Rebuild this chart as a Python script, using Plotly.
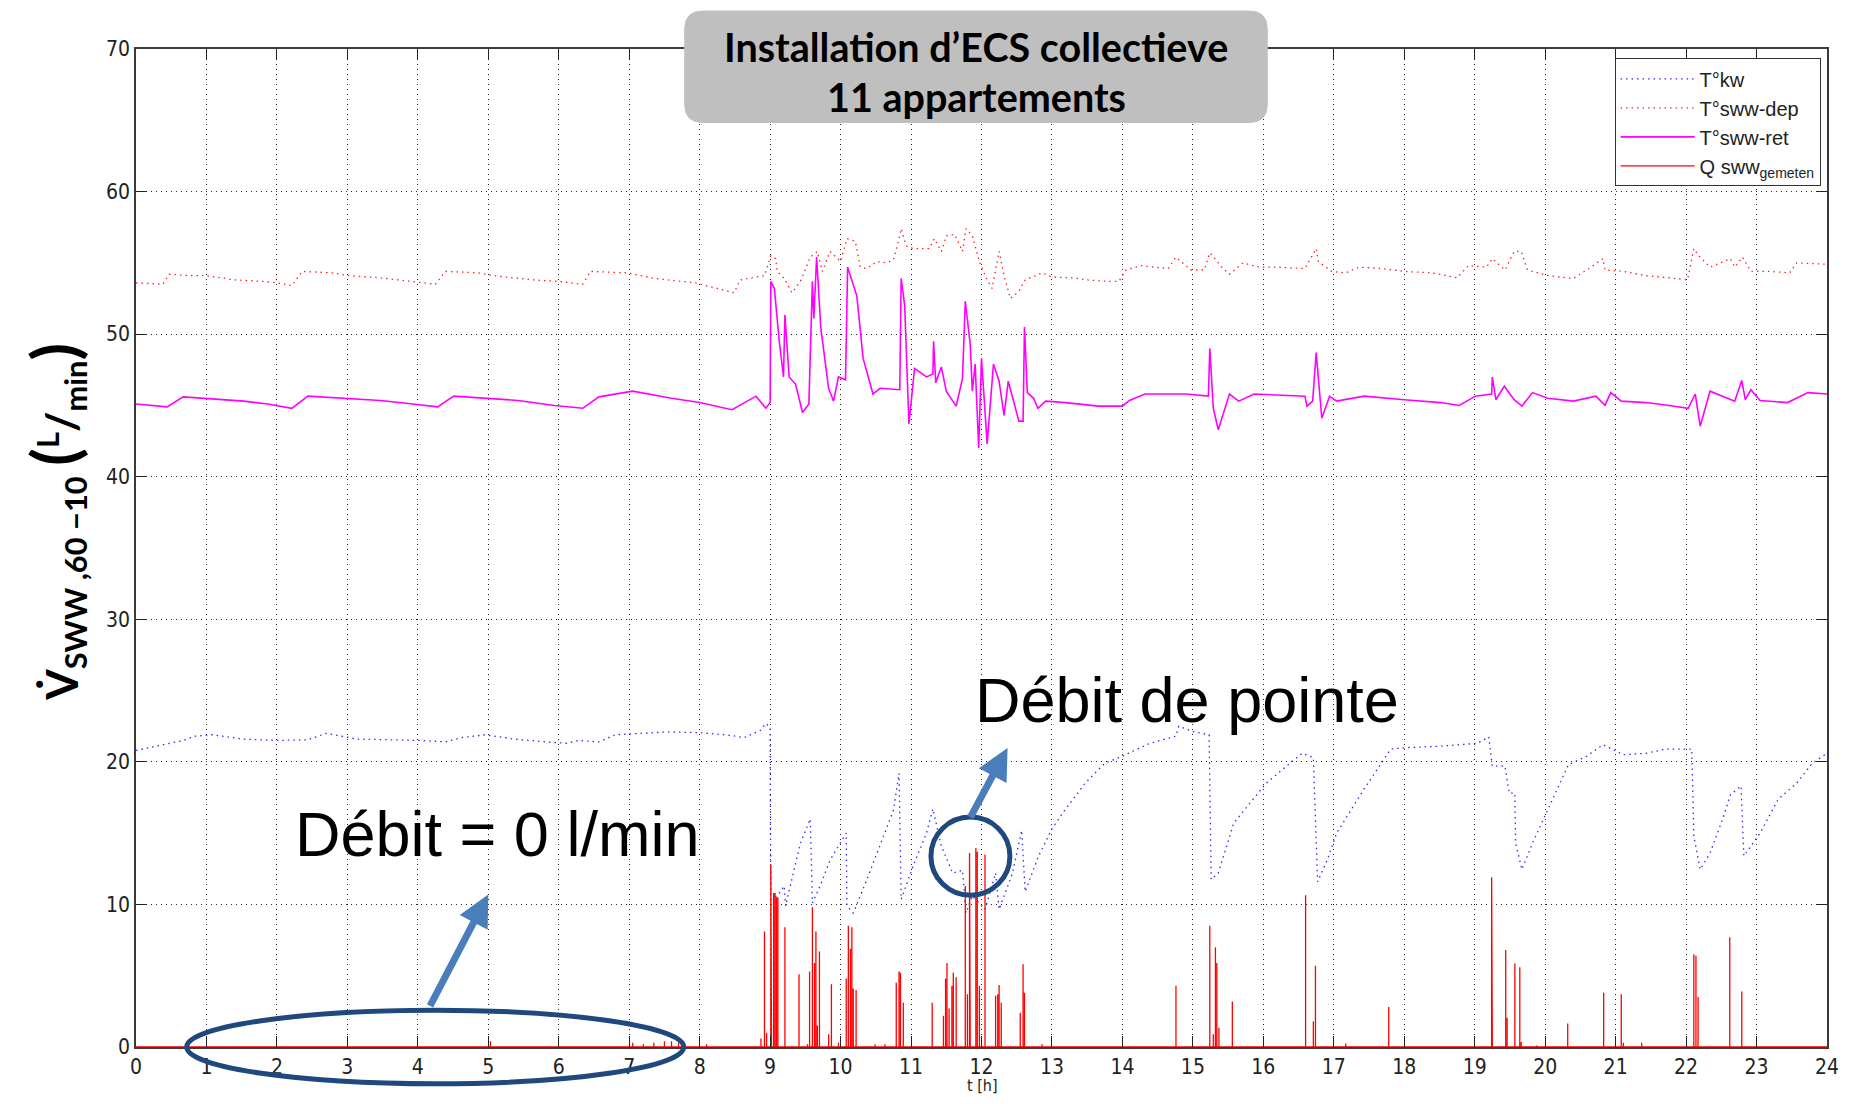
import plotly.graph_objects as go

# ---------------- data ----------------
KW_T = [0.0, 0.38, 0.67, 0.84, 1.07, 1.53, 1.99, 2.44, 2.7, 3.13, 3.65, 4.05, 4.39, 4.62, 4.96,
        5.36, 5.82, 6.11, 6.28, 6.57, 6.8, 7.14, 7.54, 7.98, 8.38, 8.63, 8.86, 8.94, 9.0, 9.01,
        9.1, 9.2, 9.22, 9.43, 9.57, 9.6, 9.71, 9.85, 10.0, 10.08, 10.09, 10.18, 10.37, 10.56,
        10.75, 10.83, 10.86, 11.03, 11.22, 11.31, 11.43, 11.59, 11.73, 11.78, 11.87, 12.05,
        12.2, 12.25, 12.44, 12.57, 12.62, 12.81, 13.0, 13.18, 13.47, 13.75, 14.0, 14.39, 14.76,
        14.8, 15.02, 15.23, 15.26, 15.36, 15.58, 15.81, 16.04, 16.33, 16.55, 16.71, 16.77,
        16.91, 17.04, 17.43, 17.81, 18.04, 18.52, 19.04, 19.2, 19.25, 19.43, 19.49, 19.57,
        19.58, 19.67, 19.82, 20.04, 20.33, 20.59, 20.82, 21.11, 21.43, 21.72, 22.08, 22.11,
        22.2, 22.34, 22.52, 22.63, 22.78, 22.82, 23.05, 23.31, 23.57, 23.79, 24.0]
KW_V = [20.8, 21.2, 21.5, 21.8, 21.9, 21.6, 21.5, 21.55, 22.0, 21.6, 21.55, 21.5, 21.4, 21.7, 21.9,
        21.6, 21.4, 21.3, 21.5, 21.4, 21.9, 22.0, 22.1, 22.05, 21.9, 21.7, 22.2, 22.7, 22.4, 10.35,
        10.6, 11.3, 9.9, 14.3, 16.0, 10.1, 11.3, 13.1, 14.3, 15.0, 9.9, 9.4, 11.7, 14.1,
        16.6, 19.2, 10.35, 12.7, 15.0, 16.7, 14.1, 12.2, 12.4, 9.4, 10.6, 9.65,
        12.2, 9.65, 12.2, 15.2, 10.9, 13.4, 15.3, 16.6, 18.5, 19.9, 20.4, 21.3, 21.8,
        22.5, 22.1, 21.9, 11.75, 12.2, 15.7, 17.1, 18.5, 19.7, 20.6, 20.3, 11.6,
        13.15, 15.0, 18.1, 20.9, 21.0, 21.1, 21.3, 21.75, 19.7, 19.7, 17.8, 17.8,
        14.3, 12.45, 14.3, 16.7, 19.8, 20.4, 21.2, 20.5, 20.6, 20.9, 20.9, 14.8,
        12.45, 13.6, 16.0, 17.7, 18.3, 13.4, 15.0, 17.4, 18.5, 19.9, 20.6]

DEP_T = [0.0, 0.38, 0.47, 0.78, 1.0, 1.41, 1.81, 2.0, 2.21, 2.36, 2.79, 3.02, 3.47, 3.93, 4.25,
         4.39, 4.85, 5.08, 5.65, 6.0, 6.34, 6.45, 6.97, 7.37, 7.94, 8.49, 8.57, 8.68, 8.92, 9.01,
         9.08, 9.1, 9.2, 9.31, 9.43, 9.57, 9.67, 9.74, 9.85, 10.0, 10.09, 10.21, 10.28, 10.37,
         10.52, 10.65, 10.75, 10.82, 10.86, 10.93, 11.03, 11.26, 11.33, 11.43, 11.5, 11.62,
         11.73, 11.78, 11.87, 11.97, 12.06, 12.15, 12.25, 12.32, 12.41, 12.53, 12.62, 12.77,
         12.86, 13.0, 13.28, 13.51, 13.79, 13.95, 14.05, 14.26, 14.65, 14.76, 14.97, 15.16,
         15.24, 15.33, 15.39, 15.52, 15.71, 15.94, 16.2, 16.59, 16.75, 16.78, 16.97, 17.17,
         17.36, 17.68, 18.0, 18.4, 18.75, 18.91, 19.17, 19.25, 19.43, 19.56, 19.66, 19.75,
         20.04, 20.4, 20.59, 20.82, 20.85, 21.11, 21.43, 21.76, 22.02, 22.11, 22.18, 22.34,
         22.63, 22.69, 22.8, 22.92, 23.18, 23.47, 23.57, 24.0]
DEP_V = [53.6, 53.5, 54.2, 54.1, 54.1, 53.8, 53.7, 53.6, 53.4, 54.4, 54.3, 54.1, 53.95, 53.7, 53.5,
         54.4, 54.3, 54.1, 53.8, 53.7, 53.5, 54.4, 54.3, 53.9, 53.6, 52.9, 53.8, 53.9, 54.1, 55.5,
         55.3, 54.4, 53.9, 52.9, 53.7, 55.4, 55.8, 54.4, 55.8, 55.1, 56.7, 56.5, 54.7, 54.6,
         55.1, 55.0, 55.2, 56.5, 57.4, 56.2, 56.0, 56.0, 56.7, 55.8, 56.9, 57.0,
         55.8, 57.4, 56.9, 55.1, 54.0, 53.2, 55.8, 54.1, 52.5, 53.0, 53.8, 54.1,
         54.3, 54.0, 53.95, 53.8, 53.7, 53.7, 54.5, 54.8, 54.6, 55.4, 54.5, 54.5,
         55.7, 55.2, 54.8, 54.2, 55.0, 54.7, 54.7, 54.6, 56.0, 55.1, 54.4, 54.3,
         54.7, 54.6, 54.4, 54.3, 53.95, 54.8, 54.7, 55.3, 54.5, 55.8, 55.8, 54.5,
         54.1, 53.9, 54.5, 55.3, 54.5, 54.4, 54.1, 53.95, 53.8, 56.0, 55.5, 54.7,
         55.3, 54.7, 55.4, 54.4, 54.4, 54.3, 55.0, 54.9]

RET_T = [0.0, 0.44, 0.67, 1.0, 1.53, 1.87, 2.21, 2.44, 3.02, 3.47, 3.93, 4.28, 4.51, 4.96, 5.42,
         5.94, 6.34, 6.57, 7.05, 7.6, 8.0, 8.46, 8.68, 8.8, 8.94, 9.0, 9.01, 9.06, 9.13, 9.19,
         9.21, 9.27, 9.36, 9.46, 9.55, 9.6, 9.62, 9.66, 9.72, 9.83, 9.9, 9.97, 10.07, 10.1,
         10.23, 10.32, 10.46, 10.56, 10.84, 10.86, 10.91, 10.97, 11.05, 11.22, 11.31, 11.32,
         11.35, 11.43, 11.5, 11.64, 11.73, 11.77, 11.84, 11.87, 11.91, 11.96, 12.0, 12.08,
         12.17, 12.25, 12.32, 12.38, 12.53, 12.59, 12.61, 12.65, 12.74, 12.8, 12.91, 13.19,
         13.66, 14.0, 14.1, 14.32, 14.9, 15.22, 15.24, 15.29, 15.36, 15.52, 15.65, 15.87,
         16.59, 16.62, 16.7, 16.75, 16.83, 16.94, 17.04, 17.43, 18.0, 18.52, 18.78, 19.01,
         19.24, 19.25, 19.3, 19.42, 19.56, 19.67, 19.82, 20.04, 20.4, 20.72, 20.85, 20.93,
         21.08, 21.43, 21.76, 22.03, 22.13, 22.2, 22.34, 22.6, 22.69, 22.79, 22.84, 22.92,
         23.05, 23.44, 23.73, 24.0]
RET_V = [45.1, 44.9, 45.6, 45.5, 45.3, 45.1, 44.8, 45.65, 45.5, 45.35, 45.1, 44.9, 45.65, 45.5, 45.35,
         45.0, 44.8, 45.6, 46.0, 45.5, 45.2, 44.7, 45.3, 45.65, 44.8, 45.2, 53.7, 53.2, 49.5, 47.0,
         51.35, 47.0, 46.5, 44.5, 45.1, 53.7, 51.1, 55.4, 50.4, 46.2, 45.3, 47.0, 46.8, 54.7,
         52.7, 48.3, 45.8, 46.2, 46.1, 53.9, 52.0, 43.7, 47.6, 47.0, 47.2, 49.5,
         46.6, 47.7, 46.0, 44.95, 46.9, 52.3, 49.3, 46.0, 47.9, 42.0, 48.3, 42.3,
         47.9, 46.7, 44.3, 46.7, 43.9, 43.9, 50.5, 45.9, 45.5, 44.8, 45.3, 45.2,
         44.95, 44.95, 45.35, 45.8, 45.8, 45.65, 49.0, 44.8, 43.3, 45.8, 45.3, 45.8,
         45.65, 44.95, 45.3, 48.7, 44.1, 45.65, 45.3, 45.65, 45.4, 45.2, 45.0, 45.65,
         45.8, 47.0, 45.4, 46.35, 45.4, 44.95, 45.9, 45.5, 45.3, 45.65, 45.0, 45.9,
         45.3, 45.2, 45.0, 44.8, 45.8, 43.55, 46.0, 45.5, 45.3, 46.75, 45.4, 46.1,
         45.35, 45.2, 45.9, 45.8]

Q_T = [5.03, 7.05, 7.2, 7.35, 7.5, 7.6, 7.7, 8.1, 8.87, 8.92, 8.95, 9.01, 9.02, 9.05, 9.07, 9.09,
       9.11, 9.21, 9.41, 9.53, 9.56, 9.6, 9.63, 9.65, 9.67, 9.7, 9.83, 9.87, 9.97, 10.08, 10.11,
       10.14, 10.16, 10.18, 10.22, 10.49, 10.63, 10.79, 10.83, 10.85, 10.89, 11.3, 11.46, 11.49,
       11.51, 11.54, 11.58, 11.6, 11.64, 11.77, 11.8, 11.83, 11.84, 11.92, 11.94, 11.97, 12.05,
       12.2, 12.23, 12.25, 12.28, 12.55, 12.59, 12.61, 12.86, 14.76, 15.24, 15.29, 15.32, 15.34,
       15.37, 15.56, 16.6, 16.71, 16.74, 17.17, 17.78, 19.24, 19.25, 19.44, 19.46, 19.57, 19.64,
       19.66, 19.88, 20.32, 20.83, 21.08, 21.11, 21.37, 22.11, 22.14, 22.17, 22.62, 22.79]
Q_V = [0.4, 0.3, 0.2, 0.3, 0.4, 0.4, 0.3, 0.2, 0.6, 8.1, 1.0, 12.8, 11.5, 10.8, 10.8, 10.5,
       10.5, 8.4, 5.1, 0.2, 5.3, 9.8, 5.9, 8.1, 1.5, 6.7, 0.9, 4.4, 0.3, 4.8, 8.5,
       6.9, 8.4, 4.1, 4.0, 0.2, 0.2, 4.5, 5.3, 5.2, 3.1, 3.1, 2.2, 4.8,
       5.9, 2.7, 4.3, 5.2, 4.9, 11.3, 3.7, 13.6, 6.4, 13.95, 13.7, 4.3, 13.5,
       3.6, 3.7, 4.35, 3.1, 2.4, 5.8, 3.8, 0.2, 4.3, 8.5, 0.9, 7.0, 5.9,
       1.35, 3.2, 10.65, 1.8, 5.7, 0.25, 2.8, 11.9, 0.5, 6.8, 2.05, 5.85, 5.6,
       0.35, 0.1, 1.65, 3.8, 3.7, 0.3, 0.3, 6.5, 6.4, 3.5, 7.7, 3.9]

X_TICKS = list(range(0, 25))
Y_TICKS = [0, 10, 20, 30, 40, 50, 60, 70]
X_RANGE = [0, 24]
Y_RANGE = [0, 70]


def spike_series(ts, hs):
    x, y = [X_RANGE[0]], [0.0]
    for t, h in zip(ts, hs):
        x += [t, t, t]
        y += [0.0, h, 0.0]
    x.append(X_RANGE[1])
    y.append(0.0)
    return x, y


q_x, q_y = spike_series(Q_T, Q_V)

fig = go.Figure()
fig.add_trace(go.Scatter(x=KW_T, y=KW_V, mode="lines", name="T°kw",
                         line=dict(color="#2a2aff", width=1.3, dash="1.5px,4px")))
fig.add_trace(go.Scatter(x=DEP_T, y=DEP_V, mode="lines", name="T°sww-dep",
                         line=dict(color="#ff2020", width=1.3, dash="1.5px,4px")))
fig.add_trace(go.Scatter(x=RET_T, y=RET_V, mode="lines", name="T°sww-ret",
                         line=dict(color="#ff00ff", width=1.6)))
fig.add_trace(go.Scatter(x=q_x, y=q_y, mode="lines", name="Q sww<sub>gemeten</sub>",
                         line=dict(color="#ff0000", width=1.3)))

tick_font = dict(family="Liberation Sans Narrow, DejaVu Sans Condensed, Arial Narrow, sans-serif",
                 size=21, color="#222222")
axis_common = dict(showline=True, linecolor="#3a3a3a", linewidth=1.5, mirror="ticks",
                   ticks="inside", ticklen=11, tickcolor="#222222", tickwidth=1,
                   showgrid=True, gridcolor="#222222", gridwidth=1, griddash="1px,4px",
                   zeroline=False, tickfont=tick_font)

# the page body adds an 8px offset: the figure is sized so that the plot area
# lands where it is in the reference and the page does not overflow the window.
fig.update_layout(
    width=1843, height=1088,
    margin=dict(l=128, r=14, t=41, b=49),
    paper_bgcolor="white", plot_bgcolor="white",
    xaxis=dict(range=X_RANGE, tickvals=X_TICKS, **axis_common),
    yaxis=dict(range=Y_RANGE, tickvals=Y_TICKS, **axis_common),
    legend=dict(x=0.9962, y=0.9906, xanchor="right", yanchor="top",
                bgcolor="white", bordercolor="#333333", borderwidth=1,
                font=dict(family="Liberation Sans, Arial, sans-serif", size=20, color="#222222"),
                itemwidth=74, tracegroupgap=0),
    showlegend=True,
)

# title box (rounded grey rectangle)
bx0, bx1, by0, by1 = 0.3245, 0.6690, 0.9264, 1.038
rx, ry = 0.0106, 0.018
path = (f"M {bx0+rx},{by1} L {bx1-rx},{by1} Q {bx1},{by1} {bx1},{by1-ry} "
        f"L {bx1},{by0+ry} Q {bx1},{by0} {bx1-rx},{by0} L {bx0+rx},{by0} "
        f"Q {bx0},{by0} {bx0},{by0+ry} L {bx0},{by1-ry} Q {bx0},{by1} {bx0+rx},{by1} Z")
fig.add_shape(type="path", path=path, xref="paper", yref="paper",
              fillcolor="#bfbfbf", line=dict(color="#bfbfbf", width=1), layer="above")

title_font = dict(family="Lato, Open Sans, sans-serif", size=39.5, color="black")
fig.add_annotation(text="<b>Installation d’ECS collectieve</b>", x=(bx0 + bx1) / 2, y=1.0026,
                   xref="paper", yref="paper", showarrow=False, font=title_font,
                   xanchor="center", yanchor="middle")
fig.add_annotation(text="<b>11 appartements</b>", x=(bx0 + bx1) / 2, y=0.9525,
                   xref="paper", yref="paper", showarrow=False, font=title_font,
                   xanchor="center", yanchor="middle")

# y-axis label
fig.add_annotation(
    text=("<b>V̇<sub>SWW ,60 −10</sub> <span style='font-size:64px'>(</span>"
          "<sup>L</sup>/<sub>min</sub><span style='font-size:64px'>)</span></b>"),
    x=-0.0487, y=0.526, xref="paper", yref="paper", showarrow=False, textangle=-90,
    font=dict(family="Lato, Open Sans, sans-serif", size=44, color="black"),
    xanchor="center", yanchor="middle")

# x-axis title
fig.add_annotation(text="t [h]", x=0.5005, y=-0.039, xref="paper", yref="paper",
                   showarrow=False,
                   font=dict(family="Liberation Sans Narrow, DejaVu Sans Condensed, sans-serif",
                             size=16, color="#222222"),
                   xanchor="center", yanchor="middle")

# annotations
big_font = dict(family="Liberation Sans, Arial, sans-serif", size=63, color="black")
fig.add_annotation(text="Débit = 0 l/min", x=0.2135, y=0.2138, xref="paper", yref="paper",
                   showarrow=False, font=big_font, xanchor="center", yanchor="middle")
fig.add_annotation(text="Débit de pointe", x=0.6215, y=0.3475, xref="paper", yref="paper",
                   showarrow=False, font=big_font, xanchor="center", yanchor="middle")

# ellipse and circle
fig.add_shape(type="circle", xref="paper", yref="paper", x0=0.0300, x1=0.3239,
              y0=-0.0368, y1=0.0369, line=dict(color="#1f497d", width=5), layer="above")
fig.add_shape(type="circle", xref="paper", yref="paper", x0=0.4701, x1=0.5168,
              y0=0.1521, y1=0.2304, line=dict(color="#1f497d", width=5), layer="above")

# arrows
arrow_col = "#4a7ebb"
fig.add_annotation(x=5.0, y=10.7, ax=-59, ay=113, xref="x", yref="y", text="",
                   showarrow=True, arrowhead=2, arrowsize=0.9, arrowwidth=7,
                   arrowcolor=arrow_col, standoff=0, startstandoff=0)
fig.add_annotation(x=12.37, y=20.98, ax=-38, ay=71, xref="x", yref="y", text="",
                   showarrow=True, arrowhead=2, arrowsize=0.9, arrowwidth=7,
                   arrowcolor=arrow_col, standoff=0, startstandoff=0)

fig.write_html("out.html", config={"displayModeBar": False})
